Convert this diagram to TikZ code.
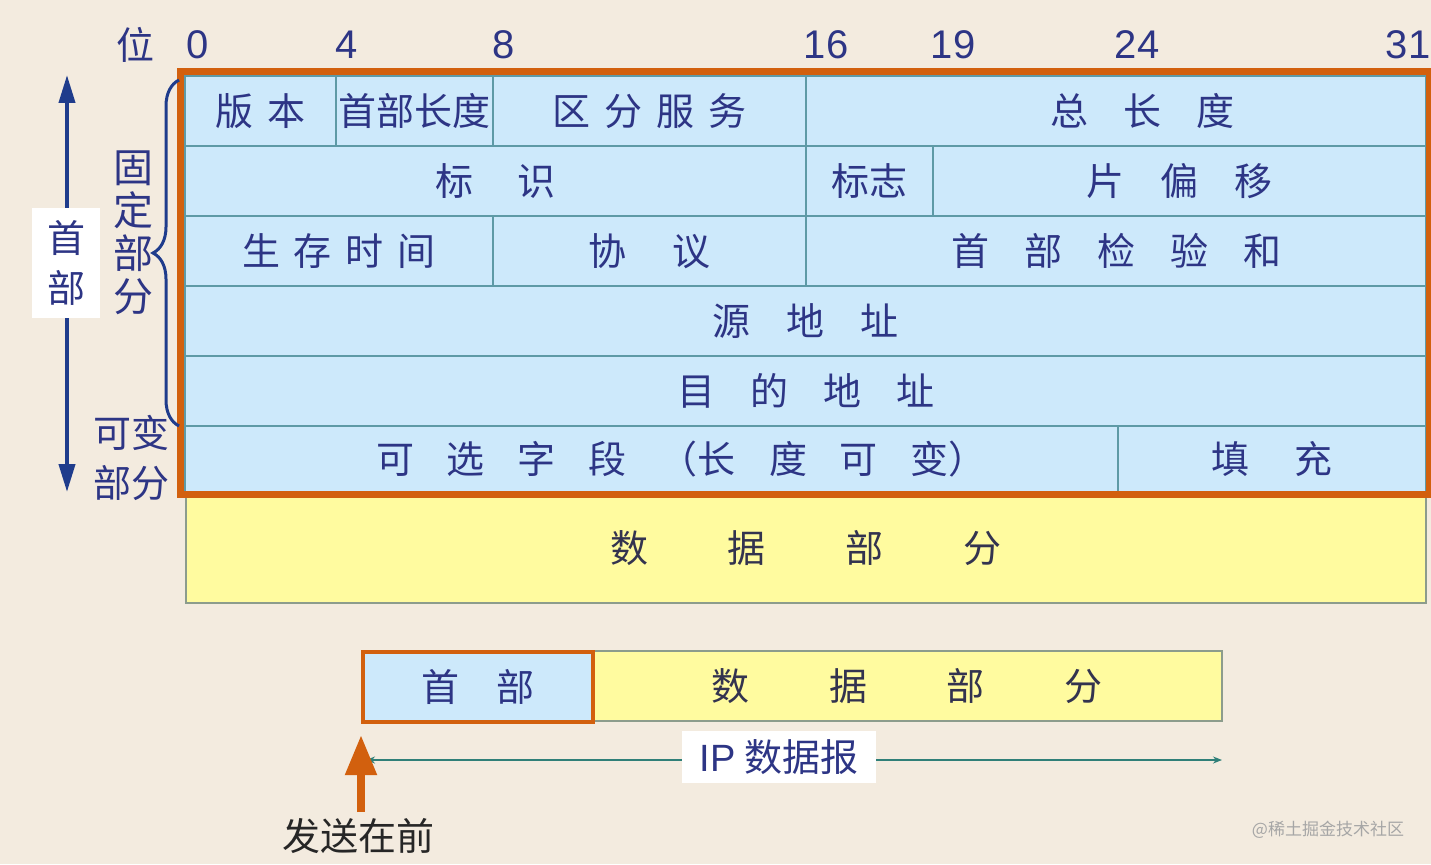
\documentclass[tikz,border=0pt]{standalone}
\usepackage{fontspec}
\setmainfont{Noto Sans CJK SC}
\newfontfamily\latin{Liberation Sans}
\usetikzlibrary{arrows.meta,decorations.pathreplacing}
\definecolor{bgpaper}{HTML}{F3EBDF}
\definecolor{hdrblue}{HTML}{CDE9FB}
\definecolor{datayellow}{HTML}{FFFB9F}
\definecolor{frameorange}{HTML}{D2600E}
\definecolor{cellline}{HTML}{5E9AA6}
\definecolor{inkblue}{HTML}{2D3585}
\definecolor{inkgray}{HTML}{33334F}
\definecolor{databorder}{HTML}{8C9C8C}
\definecolor{bracecol}{HTML}{1F3C8C}
\definecolor{iplinecol}{HTML}{2F7F78}
\newcommand{\chargap}[1]{\hspace{#1pt}}
\begin{document}
\begin{tikzpicture}[x=1pt,y=-1pt,
    every node/.style={inner sep=0pt,text=inkblue,font=\fontsize{38}{46}\selectfont},
    cell/.style 2 args={draw=cellline,line width=2pt,fill=hdrblue,anchor=north west,
      minimum width=#1pt,minimum height=#2pt},
    datacell/.style 2 args={cell={#1}{#2},fill=datayellow,draw=databorder,text=inkgray},
    bitnum/.style={font=\latin\fontsize{40}{44}\selectfont},
    whitebox/.style={fill=white,inner xsep=18pt,inner ysep=8pt},
    frame/.style={draw=frameorange,line width=7pt},
    brace/.style={decorate,decoration={brace,amplitude=26pt},draw=bracecol,line width=3pt},
    hdarrow/.style={{Triangle[length=28pt,width=16pt]}-{Triangle[length=28pt,width=16pt]},
      draw=bracecol,line width=4pt},
    iparrow/.style={{Stealth[length=9pt,width=7pt]}-{Stealth[length=9pt,width=7pt]},
      draw=iplinecol,line width=2pt},
    sendarrow/.style={-{Triangle[length=40pt,width=30pt]},draw=frameorange,line width=8pt}]
  \fill[bgpaper] (0,0) rectangle (1431,864);
  \useasboundingbox (0,0) rectangle (1431,864);

  % bit positions
  \node (bitlbl) at (135,45) {位};
  \node[bitnum] (b0)  at (198,45)  {0};
  \node[bitnum] (b4)  at (347,45)  {4};
  \node[bitnum] (b8)  at (504,45)  {8};
  \node[bitnum] (b16) at (826,45)  {16};
  \node[bitnum] (b19) at (953,45)  {19};
  \node[bitnum] (b24) at (1137,45) {24};
  \node[bitnum] (b31) at (1408,45) {31};

  % fixed part of the header
  \node[cell={151}{70}] (ver)   at (184,75)  {版\chargap{15}本};
  \node[cell={157}{70}] (ihl)   at (335,75)  {首部长度};
  \node[cell={313}{70}] (tos)   at (492,75)  {区\chargap{14}分\chargap{14}服\chargap{14}务};
  \node[cell={620}{70}] (len)   at (805,75)  {};
  \node[xshift=26pt] (lenlbl) at (len.center) {总\chargap{35}长\chargap{35}度};
  \node[cell={621}{70}] (ident) at (184,145) {标\chargap{45}识};
  \node[cell={127}{70}] (flags) at (805,145) {标志};
  \node[cell={493}{70}] (frag)  at (932,145) {片\chargap{36}偏\chargap{36}移};
  \node[cell={308}{70}] (ttl)   at (184,215) {生\chargap{14}存\chargap{14}时\chargap{14}间};
  \node[cell={313}{70}] (proto) at (492,215) {协\chargap{46}议};
  \node[cell={620}{70}] (csum)  at (805,215) {首\chargap{35}部\chargap{35}检\chargap{35}验\chargap{35}和};
  \node[cell={1241}{70}] (src)  at (184,285) {源\chargap{36}地\chargap{36}址};
  \node[cell={1241}{70}] (dst)  at (184,355) {目\chargap{35}的\chargap{35}地\chargap{35}址};
  % variable part
  \node[cell={933}{66}] (opt)   at (184,425) {};
  \node[xshift=30pt] (optlbl) at (opt.center)
    {可\chargap{33}选\chargap{33}字\chargap{33}段\chargap{33}（长\chargap{33}度\chargap{33}可\chargap{33}变）};
  \node[cell={308}{66}] (pad)   at (1117,425) {填\chargap{45}充};

  \node[datacell={1240}{109}] (data) at (185,493) {数\chargap{80}据\chargap{80}部\chargap{80}分};
  \draw[frame] ([shift={(-4,-3)}]ver.north west) rectangle ([shift={(2,1)}]pad.south east);

  % left side labels
  \coordinate (fixtop) at (179,80);
  \coordinate (fixbot) at (179,426);
  \draw[brace] (fixbot) -- (fixtop);
  \node[align=center,font=\fontsize{40}{43}\selectfont] (fixlbl) at (133,233) {固\\定\\部\\分};
  \node[align=center,font=\fontsize{38}{50}\selectfont] (varlbl) at (131,458) {可变\\部分};
  \coordinate (hdtop) at (67,75);
  \coordinate (hdbot) at (67,492);
  \draw[hdarrow] (hdtop) -- (hdbot);
  \node[fill=white,minimum width=68pt,minimum height=110pt,align=center,
    font=\fontsize{38}{50}\selectfont] (hdlbl) at (66,263) {首\\部};

  % the datagram below
  \node[datacell={630}{70}] (body) at (591,650) {数\chargap{80}据\chargap{80}部\chargap{80}分};
  \node[cell={230}{70},draw=frameorange,line width=4pt] (hdr) at (361,650) {首\chargap{37}部};
  \coordinate (ipl) at (366,760);
  \coordinate (ipr) at (1222,760);
  \draw[iparrow] (ipl) -- (ipr);
  \node[whitebox] (iplbl) at (779,757) {{\latin IP} 数据报};
  \coordinate (sendtail) at (361,812);
  \coordinate (sendtip) at (361,735);
  \draw[sendarrow] (sendtail) -- (sendtip);
  \node[text=black!85] (sendlbl) at (358,836) {发送在前};

  \node[text=black!35,font=\fontsize{17}{20}\selectfont] (mark) at (1328,830) {@稀土掘金技术社区};
\end{tikzpicture}
\end{document}
